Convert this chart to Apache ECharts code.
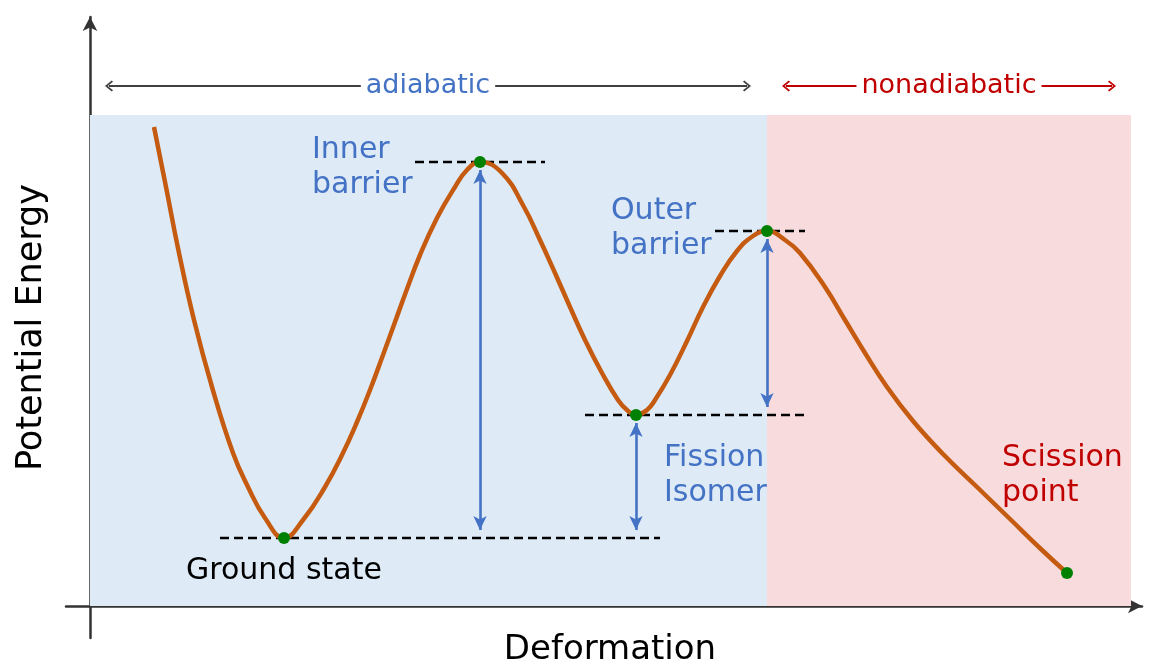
<!DOCTYPE html>
<html>
<head>
<meta charset="utf-8">
<script src="https://cdn.jsdelivr.net/npm/echarts@6/dist/echarts.min.js"></script>
<style>
  html, body { margin: 0; padding: 0; background: #fff; }
  #chart { width: 1150px; height: 664px; }
</style>
</head>
<body>
<div id="chart"></div>
<script>
// Potential energy along the fission path (arbitrary units)
const deformation = [0.64, 0.76, 0.89, 1.04, 1.22, 1.43, 1.58, 1.75, 1.94,
                     2.13, 2.35, 2.52, 2.67, 2.80, 2.93, 3.05, 3.17, 3.30, 3.47, 3.65, 3.77, 3.90,
                     4.12, 4.34, 4.50, 4.65, 4.80, 4.95, 5.12, 5.28, 5.37, 5.46, 5.57,
                     5.65, 5.80, 5.97, 6.13, 6.30, 6.47, 6.63, 6.77,
                     6.95, 7.10, 7.35, 7.55, 7.75, 7.97, 8.23, 8.53, 8.87, 9.20, 9.53, 9.77];
const energy      = [9.58, 8.38, 7.06, 5.72, 4.38, 3.06, 2.38, 1.76, 1.36,
                     1.72, 2.38, 3.02, 3.68, 4.32, 5.02, 5.68, 6.34, 7.02, 7.76, 8.38, 8.72, 8.88,
                     8.66, 7.98, 7.32, 6.66, 5.98, 5.32, 4.66, 4.12, 3.92, 3.82, 3.92,
                     4.12, 4.62, 5.30, 5.98, 6.60, 7.10, 7.40, 7.50,
                     7.32, 7.06, 6.38, 5.72, 5.06, 4.38, 3.70, 3.04, 2.38, 1.74, 1.10, 0.66];

// Stationary points on the path: ground state, inner barrier, isomer, outer barrier, scission
const pointX = [1.94, 3.90, 5.46, 6.77, 9.77];
const pointE = [1.36, 8.88, 3.82, 7.50, 0.66];

// Dashed reference levels
const levelE    = [1.36, 8.88, 3.82, 7.50];
const levelFrom = [1.30, 3.25, 4.95, 6.25];
const levelTo   = [5.70, 4.55, 7.16, 7.15];

// Barrier height arrows (x, lower energy, upper energy)
const gapX    = [3.90, 5.46, 6.77];
const gapLow  = [1.36, 1.36, 3.82];
const gapHigh = [8.88, 3.82, 7.50];

// Regimes along the deformation axis
const regimeNames = ['adiabatic', 'nonadiabatic'];
const regimeFrom  = [0.00, 6.77];
const regimeTo    = [6.77, 10.41];
const regimeTop   = 9.82;
const regimeArrowFrom = [0.19, 6.96];
const regimeArrowTo   = [6.57, 10.22];
const regimeArrowE    = 10.40;

// Text annotations
const noteText = ['Inner\nbarrier', 'Outer\nbarrier', 'Fission\nIsomer', 'Scission\npoint', 'Ground state'];
const noteX    = [2.22, 5.21, 5.74, 9.12, 0.96];
const noteE    = [8.77, 7.55, 2.61, 2.61, 0.70];

const BLUE = '#4472c4';
const RED = '#c00000';
const CURVE = '#c55a11';
const FONT = 'DejaVu Sans';
const regimeFill = ['#deebf7', '#f8dcdd'];
const regimeInk = [BLUE, RED];
const regimeArrowInk = ['#404040', RED];
const noteInk = [BLUE, BLUE, BLUE, RED, '#000'];

const chevron = 'path://M5,0 L10,6 L8.8,7.1 L5,2.4 L1.2,7.1 L0,6 Z';

const chart = echarts.init(document.getElementById('chart'), null, { renderer: 'canvas' });

const series = [];

// Shaded regimes
series.push({
  type: 'line', data: [], z: 0, silent: true,
  markArea: {
    silent: true,
    data: regimeNames.map((n, i) => [
      { coord: [regimeFrom[i], 0], itemStyle: { color: regimeFill[i], opacity: 1 } },
      { coord: [regimeTo[i], regimeTop] }
    ])
  }
});

// Dashed levels
levelE.forEach((e, i) => {
  series.push({
    type: 'line', z: 2, silent: true, symbol: 'none',
    data: [[levelFrom[i], e], [levelTo[i], e]],
    lineStyle: { color: '#000', width: 2.4, type: [9, 5] }
  });
});

// Potential energy curve
series.push({
  type: 'line', z: 3, silent: true, symbol: 'none', smooth: 0.45,
  data: deformation.map((x, i) => [x, energy[i]]),
  lineStyle: { color: CURVE, width: 4.5 }
});

// Barrier height arrows
series.push({
  type: 'line', data: [], z: 4, silent: true,
  markLine: {
    silent: true, animation: false,
    symbol: ['arrow', 'arrow'], symbolSize: [10, 14],
    label: { show: false },
    lineStyle: { color: BLUE, width: 2.6, type: 'solid' },
    data: gapX.map((x, i) => [{ coord: [x, gapLow[i] + 0.16] }, { coord: [x, gapHigh[i] - 0.16] }])
  }
});

// Regime arrows with names
series.push({
  type: 'line', data: [], z: 4, silent: true,
  markLine: {
    silent: true, animation: false,
    symbol: [chevron, chevron], symbolSize: [11, 8],
    data: regimeNames.map((n, i) => [
      {
        coord: [regimeArrowFrom[i], regimeArrowE],
        lineStyle: { color: regimeArrowInk[i], width: 2, type: 'solid' },
        itemStyle: { color: regimeArrowInk[i] },
        label: {
          show: true, position: 'insideMiddle', formatter: n, distance: 0,
          color: regimeInk[i], fontFamily: FONT, fontSize: 27,
          backgroundColor: '#fff', padding: [2, 5]
        }
      },
      { coord: [regimeArrowTo[i], regimeArrowE] }
    ])
  }
});

// Stationary points
series.push({
  type: 'scatter', z: 6, silent: true,
  data: pointX.map((x, i) => [x, pointE[i]]),
  symbolSize: 12,
  itemStyle: { color: '#008000', opacity: 1 }
});

// Annotations
series.push({
  type: 'scatter', z: 7, silent: true,
  symbolSize: 0,
  itemStyle: { opacity: 1 },
  data: noteText.map((t, i) => ({
    value: [noteX[i], noteE[i]],
    label: {
      show: true, formatter: t, position: [0, 0],
      align: 'left', verticalAlign: 'middle',
      color: noteInk[i], fontFamily: FONT, fontSize: 30, lineHeight: 35
    }
  }))
});

chart.setOption({
  animation: false,
  backgroundColor: '#fff',
  grid: { left: 66, right: 8, top: 17, bottom: 26, containLabel: false, outerBoundsMode: 'none' },
  xAxis: {
    type: 'value', min: -0.24, max: 10.52,
    name: 'Deformation', nameLocation: 'middle', nameGap: -5,
    nameTextStyle: { fontFamily: FONT, fontSize: 34, color: '#000', padding: [0, 0, 0, 12] },
    axisLine: { onZero: true, symbol: ['none', 'arrow'], symbolSize: [11, 14],
                lineStyle: { color: '#333', width: 2.5 } },
    axisTick: { show: false }, axisLabel: { show: false }, splitLine: { show: false }
  },
  yAxis: {
    type: 'value', min: -0.64, max: 11.78,
    name: 'Potential Energy', nameLocation: 'middle', nameGap: 17,
    nameTextStyle: { fontFamily: FONT, fontSize: 35, color: '#000' },
    axisLine: { onZero: true, symbol: ['none', 'arrow'], symbolSize: [11, 14],
                lineStyle: { color: '#333', width: 2.5 } },
    axisTick: { show: false }, axisLabel: { show: false }, splitLine: { show: false }
  },
  series: series
});
</script>
</body>
</html>
